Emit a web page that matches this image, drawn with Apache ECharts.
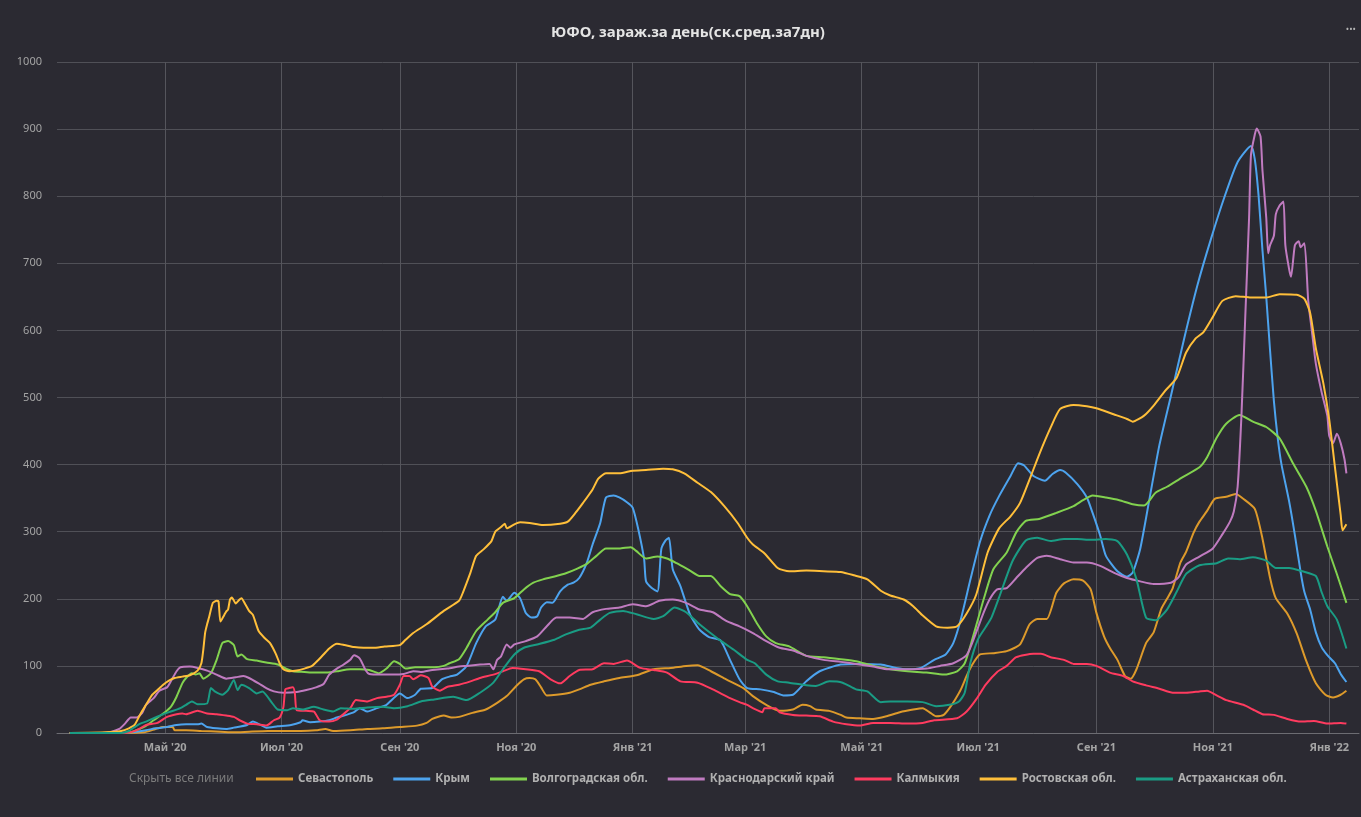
<!DOCTYPE html>
<html><head><meta charset="utf-8">
<script src="https://cdn.jsdelivr.net/npm/echarts@6/dist/echarts.min.js"></script>
<style>html,body{margin:0;padding:0;background:#2b2a32;}#c{width:1361px;height:817px;}</style>
</head><body><div id="c"></div><script>
// Dates are given as day offsets from 2020-03-01 (day 0)
const BASE_DATE = Date.UTC(2020, 2, 1);
const DAY_MS = 86400000;

const titleText = 'ЮФО, зараж.за день(ск.сред.за7дн)';
const seriesNames = ['Севастополь', 'Крым', 'Волгоградская обл.', 'Краснодарский край', 'Калмыкия', 'Ростовская обл.', 'Астраханская обл.'];
const seriesColors = ['#dd9a2b', '#4da3ee', '#82d24f', '#c07bc0', '#ff3b5f', '#ffbf3a', '#1a9c84'];
const tickDates = ['2020-05-01', '2020-07-01', '2020-09-01', '2020-11-01', '2021-01-01', '2021-03-01', '2021-05-01', '2021-07-01', '2021-09-01', '2021-11-01', '2022-01-01'];
const tickLabels = ["Май '20", "Июл '20", "Сен '20", "Ноя '20", "Янв '21", "Мар '21", "Май '21", "Июл '21", "Сен '21", "Ноя '21", "Янв '22"];
const yTicks = [0, 100, 200, 300, 400, 500, 600, 700, 800, 900, 1000];

const sevastopol = [[11,0],[40,0],[50,1],[55,5],[57,7],[60,9],[65,9],[66,4],[72,4],[80,3],[90,2],[97,1],[105,2],[115,3],[125,3],[132,3],[140,4],[145,6],[149,3],[158,4],[167,6],[175,7],[184,9],[193,11],[198,15],[201,21],[205,25],[207,26],[211,23],[215,24],[222,30],[229,35],[235,45],[240,55],[245,70],[249,80],[252,82],[255,80],[258,68],[261,56],[266,57],[273,60],[278,65],[284,72],[291,77],[299,82],[308,86],[317,95],[326,97],[334,100],[340,101],[347,92],[355,80],[364,67],[369,55],[376,42],[383,33],[390,35],[395,42],[399,40],[402,35],[409,33],[415,27],[418,23],[425,22],[432,21],[439,25],[446,31],[453,35],[458,37],[462,30],[465,25],[469,27],[472,37],[475,50],[478,65],[481,85],[484,102],[488,117],[495,119],[502,122],[509,132],[514,162],[518,170],[523,170],[528,209],[532,223],[537,229],[542,227],[546,214],[549,179],[553,144],[556,127],[560,109],[564,85],[567,81],[570,95],[575,134],[579,150],[583,185],[586,200],[589,216],[593,254],[596,270],[600,299],[603,315],[607,331],[611,349],[617,352],[622,356],[626,349],[632,334],[636,290],[640,231],[643,201],[649,178],[654,148],[659,107],[664,74],[669,57],[673,53],[677,57],[680,63]];

const krym = [[11,0],[35,0],[44,1],[51,4],[56,7],[62,9],[67,12],[72,13],[78,13],[80,14],[83,9],[88,7],[93,6],[97,8],[104,12],[107,17],[111,12],[114,8],[120,10],[127,12],[132,16],[133,19],[137,16],[142,17],[147,19],[151,23],[156,27],[160,31],[163,37],[167,32],[172,37],[177,42],[180,50],[184,59],[188,52],[192,57],[195,66],[201,67],[206,80],[210,84],[214,87],[219,100],[224,134],[229,159],[234,169],[238,203],[240,197],[244,209],[247,201],[250,179],[253,172],[256,174],[258,187],[261,195],[264,194],[268,211],[272,221],[275,224],[278,231],[282,254],[285,281],[289,313],[292,351],[296,354],[299,351],[303,344],[306,336],[309,303],[312,259],[313,226],[316,216],[319,211],[321,274],[323,286],[325,291],[327,244],[331,219],[336,177],[341,154],[346,143],[352,138],[357,109],[362,80],[366,67],[373,65],[380,61],[385,56],[390,57],[397,77],[404,92],[415,102],[425,103],[436,102],[444,97],[450,95],[457,97],[464,109],[470,117],[474,134],[478,170],[483,229],[488,285],[493,324],[498,353],[504,383],[508,402],[511,399],[516,383],[522,376],[526,386],[530,392],[533,388],[539,371],[544,351],[547,328],[551,294],[554,264],[560,241],[565,233],[568,239],[572,275],[577,352],[582,429],[588,502],[595,588],[602,668],[609,736],[616,798],[623,851],[630,875],[632,855],[634,800],[636,720],[638,650],[640,570],[642,495],[644,440],[646,400],[650,345],[653,295],[656,240],[658,210],[661,184],[664,150],[667,128],[670,116],[674,104],[677,88],[680,76]];

const volgograd = [[11,0],[40,0],[44,2],[50,9],[55,19],[60,29],[64,39],[67,54],[70,74],[72,82],[75,89],[77,87],[79,89],[81,81],[85,89],[88,109],[91,134],[94,137],[97,131],[99,114],[101,117],[104,110],[109,108],[114,105],[120,102],[125,95],[128,92],[134,91],[139,90],[146,90],[151,92],[158,95],[163,95],[168,94],[173,89],[177,96],[181,107],[184,103],[187,96],[192,98],[197,98],[202,98],[207,100],[210,104],[215,110],[219,127],[224,152],[230,169],[234,180],[238,194],[244,201],[249,214],[254,224],[259,229],[266,234],[271,238],[277,245],[282,252],[287,264],[292,275],[299,275],[305,277],[308,271],[313,260],[319,263],[324,260],[329,253],[336,242],[341,234],[347,234],[352,219],[357,207],[362,204],[366,189],[371,164],[376,144],[381,134],[388,129],[397,115],[406,113],[415,110],[423,107],[432,100],[441,95],[450,92],[460,90],[469,87],[476,92],[480,104],[484,140],[487,170],[490,200],[495,244],[502,269],[507,299],[512,316],[519,319],[528,328],[537,338],[542,347],[547,354],[554,351],[561,347],[568,341],[574,339],[580,358],[586,367],[594,381],[603,396],[607,411],[612,440],[617,461],[624,474],[631,464],[638,456],[645,439],[652,402],[659,367],[664,331],[670,278],[675,237],[680,194]];

const krasnodar = [[11,0],[28,0],[33,2],[37,6],[40,14],[43,23],[46,23],[49,30],[51,42],[55,52],[58,63],[62,68],[64,77],[67,92],[69,98],[74,99],[78,97],[83,93],[88,87],[93,81],[98,83],[102,85],[105,82],[110,74],[114,67],[118,62],[123,60],[130,61],[135,64],[140,68],[144,73],[147,87],[151,96],[154,101],[158,109],[160,116],[163,111],[166,94],[168,88],[174,87],[181,87],[186,88],[191,92],[195,91],[201,94],[209,96],[215,99],[219,100],[226,102],[231,103],[233,95],[235,109],[237,114],[240,132],[242,127],[244,132],[250,137],[256,144],[261,159],[266,172],[273,172],[280,170],[285,180],[292,185],[299,187],[306,192],[313,189],[320,197],[327,199],[334,194],[341,184],[348,180],[355,167],[362,159],[369,149],[376,137],[383,127],[390,123],[397,115],[406,109],[415,106],[423,103],[432,99],[440,95],[450,95],[460,96],[467,100],[474,104],[481,116],[486,150],[490,180],[493,199],[497,214],[502,216],[507,231],[512,246],[518,261],[523,264],[530,259],[537,254],[544,254],[551,249],[558,239],[565,231],[572,226],[579,222],[588,224],[592,232],[596,251],[603,263],[610,275],[615,296],[619,315],[621,330],[623,367],[625,473],[627,620],[629,768],[630,862],[632,892],[633,901],[635,889],[636,839],[638,768],[639,715],[640,727],[642,741],[643,773],[645,786],[647,792],[648,727],[650,691],[651,680],[653,727],[655,733],[656,724],[658,730],[660,644],[662,597],[664,550],[667,508],[670,473],[671,443],[673,432],[675,446],[677,432],[679,408],[680,387]];

const kalmykia = [[11,0],[40,0],[44,2],[48,7],[51,12],[57,15],[62,24],[67,28],[70,29],[72,28],[78,33],[83,29],[88,28],[93,26],[97,24],[100,19],[104,14],[109,13],[114,11],[118,19],[121,23],[123,39],[124,65],[126,67],[128,68],[129,59],[130,34],[135,33],[139,32],[142,19],[147,17],[151,20],[154,27],[158,37],[161,49],[167,47],[172,52],[177,54],[181,57],[184,72],[186,85],[189,85],[191,80],[195,86],[199,82],[201,69],[205,63],[209,69],[215,72],[221,77],[226,82],[233,87],[238,92],[243,97],[250,95],[257,92],[263,80],[268,74],[273,85],[278,94],[285,95],[291,104],[296,103],[303,108],[310,97],[317,94],[324,90],[331,77],[340,75],[348,65],[357,52],[362,46],[366,42],[369,37],[374,31],[375,37],[381,37],[383,31],[390,27],[397,26],[404,25],[411,17],[418,13],[425,11],[432,15],[441,15],[450,14],[458,15],[464,19],[476,22],[481,32],[486,50],[491,72],[497,91],[502,100],[507,113],[516,118],[520,118],[525,113],[532,109],[537,103],[544,103],[549,100],[556,90],[563,85],[568,77],[575,71],[582,66],[589,60],[596,60],[603,62],[607,63],[612,56],[617,49],[626,42],[631,35],[636,28],[642,27],[649,21],[656,17],[663,18],[670,14],[677,15],[680,14]];

const rostov = [[11,0],[30,1],[38,3],[42,7],[45,12],[48,28],[51,42],[54,56],[57,64],[60,72],[63,78],[66,82],[70,84],[74,86],[78,93],[80,104],[81,124],[82,150],[83,162],[84,172],[86,194],[88,197],[89,196],[90,166],[92,176],[93,181],[94,184],[95,199],[96,202],[98,193],[100,199],[101,201],[103,192],[105,182],[107,176],[110,152],[113,142],[116,134],[119,118],[121,104],[123,95],[126,92],[130,93],[134,96],[138,100],[141,108],[144,117],[147,126],[151,133],[155,131],[160,128],[165,127],[170,127],[176,129],[184,131],[187,139],[191,149],[198,162],[207,182],[215,197],[217,209],[221,239],[224,264],[228,274],[232,286],[234,300],[237,307],[239,312],[240,305],[244,311],[247,314],[252,313],[259,310],[268,312],[272,315],[276,328],[280,343],[285,363],[288,379],[292,387],[299,387],[306,391],[313,392],[322,394],[327,393],[333,387],[340,373],[347,359],[354,338],[361,313],[366,291],[369,281],[375,268],[382,246],[388,241],[397,242],[406,241],[415,240],[422,235],[429,229],[436,212],[441,205],[448,199],[453,189],[458,175],[465,159],[471,157],[476,159],[481,178],[486,206],[492,269],[498,305],[504,323],[509,343],[514,378],[519,415],[525,455],[530,483],[537,489],[544,487],[549,484],[558,475],[565,468],[568,464],[574,473],[579,488],[585,510],[591,529],[596,567],[601,588],[605,597],[610,620],[615,644],[622,651],[630,649],[638,649],[645,654],[654,653],[658,647],[661,626],[664,573],[668,520],[671,467],[674,396],[677,325],[678,302],[680,311]];

const astrakhan = [[11,0],[38,0],[42,3],[44,7],[48,14],[51,17],[55,22],[60,28],[64,32],[69,37],[72,42],[75,47],[78,43],[83,44],[85,67],[87,62],[91,57],[94,64],[97,79],[99,64],[101,72],[105,67],[109,59],[112,62],[117,45],[120,35],[125,34],[128,37],[133,35],[139,39],[144,35],[149,32],[153,37],[160,36],[167,38],[175,39],[181,37],[188,40],[195,47],[202,50],[212,54],[219,49],[226,60],[233,75],[238,95],[244,117],[249,127],[256,132],[265,139],[271,147],[278,154],[284,157],[289,169],[294,179],[301,182],[308,177],[317,170],[322,174],[328,187],[334,180],[341,162],[350,142],[359,124],[366,109],[370,104],[376,87],[382,77],[388,75],[397,71],[402,70],[409,77],[416,75],[423,65],[429,62],[436,46],[441,47],[450,47],[458,46],[465,40],[472,42],[477,47],[480,60],[483,105],[487,140],[491,158],[494,172],[498,202],[505,256],[512,287],[518,291],[525,286],[532,289],[539,289],[546,288],[554,289],[560,286],[565,266],[570,229],[575,172],[580,168],[586,184],[591,210],[596,237],[603,250],[612,253],[618,260],[624,259],[631,262],[638,257],[643,246],[650,246],[657,241],[664,234],[667,210],[670,189],[675,169],[680,126]];

const seriesData = [sevastopol, krym, volgograd, krasnodar, kalmykia, rostov, astrakhan];
const toTime = d => BASE_DATE + d * DAY_MS;
const tickTimes = tickDates.map(s => Date.parse(s + 'T00:00:00Z'));

const chart = echarts.init(document.getElementById('c'), null, {renderer: 'canvas'});
const FONT = 'Noto Sans';
chart.setOption({
  backgroundColor: '#2b2a32',
  animation: false,
  title: {
    text: titleText, left: 683, top: 20, textAlign: 'center',
    textStyle: {color: '#e4e4e4', fontSize: 15, fontWeight: 'bold', fontFamily: FONT}
  },
  grid: {left: 57, right: 2, top: 62, bottom: 84, containLabel: false},
  xAxis: {
    type: 'value',
    min: toTime(4.35), max: toTime(686.6),
    axisLine: {show: true, lineStyle: {color: '#6c6c72', width: 1}},
    axisTick: {show: false, customValues: tickTimes},
    axisLabel: {
      customValues: tickTimes, color: '#a4a4a4', fontSize: 11, fontWeight: 'bold', fontFamily: FONT, margin: 9,
      formatter: v => { const i = tickTimes.indexOf(+v); return i >= 0 ? tickLabels[i] : ''; }
    },
    splitLine: {show: true, lineStyle: {color: '#55555c', width: 1}}
  },
  yAxis: {
    type: 'value', min: 0, max: 1000, interval: 100,
    axisLine: {show: false}, axisTick: {show: false},
    axisLabel: {color: '#a4a4a4', fontSize: 11, fontFamily: FONT, margin: 15,
      formatter: v => yTicks.includes(v) ? String(v) : ''},
    splitLine: {show: true, lineStyle: {color: '#505057', width: 1}}
  },
  legend: {
    left: 256, top: 773, padding: 0, itemGap: 20, itemWidth: 37, itemHeight: 3, icon: 'rect',
    data: seriesNames,
    textStyle: {color: '#b0b0b0', fontSize: 11.5, fontWeight: 'bold', fontFamily: FONT},
    itemStyle: {borderWidth: 0}
  },
  graphic: [
    {type: 'text', left: 129, top: 773, style: {text: 'Скрыть все линии', fill: '#7c7c7c', fontSize: 12, fontFamily: FONT}},
    {type: 'text', right: 5, top: 25, style: {text: '•••', fill: '#b4b4b4', fontSize: 9, fontFamily: FONT}}
  ],
  series: seriesNames.map((name, i) => ({
    name, type: 'line', showSymbol: false, symbol: 'none', smooth: 0.2,
    color: seriesColors[i],
    lineStyle: {width: 2, color: seriesColors[i]},
    emphasis: {disabled: true},
    data: seriesData[i].map(p => [toTime(p[0]), p[1]])
  }))
});
</script></body></html>
